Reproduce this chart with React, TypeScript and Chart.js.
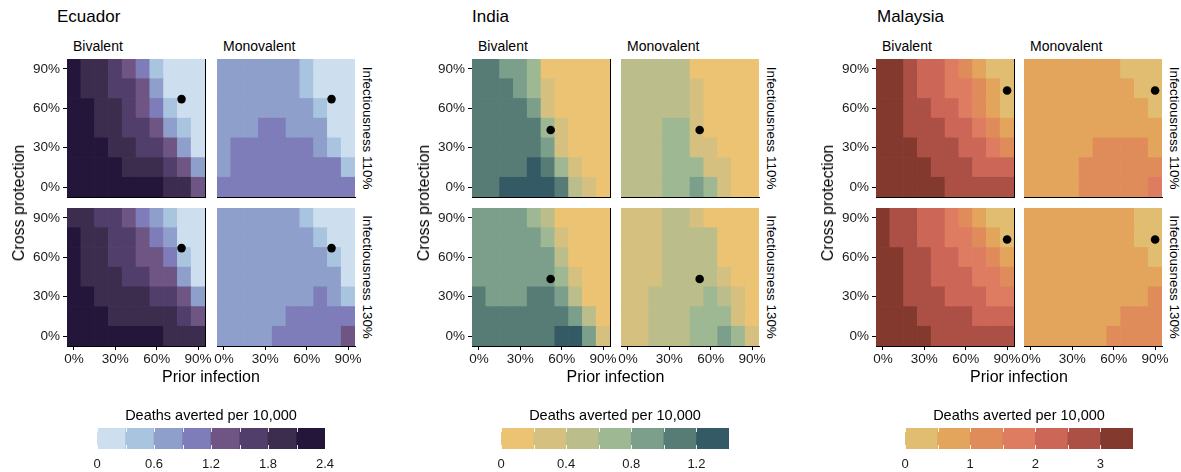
import React, { useEffect, useRef } from "react";
import { Chart, registerables } from "chart.js";

Chart.register(...registerables);

const FONT = '"Liberation Sans", Arial, Helvetica, sans-serif';
Chart.defaults.font.family = FONT;

// ---------- shared axes ----------
const priorInfection = [0, 10, 20, 30, 40, 50, 60, 70, 80, 90];
const crossProtection = [90, 75, 60, 45, 30, 15, 0]; // rows, top to bottom
const axisTicks = [0, 30, 60, 90];
const legendTitle = "Deaths averted per 10,000";

// ---------- Ecuador ----------
const ecuadorBins = [0, 0.3, 0.6, 0.9, 1.2, 1.5, 1.8, 2.1, 2.4];
const ecuadorColors = ["#cddfee", "#a8c4df", "#8f9fcb", "#7e7cb9", "#6e5584", "#513e6b", "#3c2c4e", "#24163a"];
const ecuadorLegendTicks = [0, 0.6, 1.2, 1.8, 2.4];
const ecuadorOptimum = { x: 78, y: 67 };
const ecuadorBivalent110 = [
  [2.25, 1.95, 1.95, 1.65, 1.35, 1.05, 0.45, 0.15, 0.15, 0.15],
  [2.25, 1.95, 1.95, 1.65, 1.65, 1.35, 0.75, 0.15, 0.15, 0.15],
  [2.25, 2.25, 1.95, 1.95, 1.65, 1.35, 1.05, 0.45, 0.15, 0.15],
  [2.25, 2.25, 1.95, 1.95, 1.65, 1.65, 1.35, 0.75, 0.45, 0.15],
  [2.25, 2.25, 2.25, 1.95, 1.95, 1.65, 1.65, 1.35, 0.75, 0.15],
  [2.25, 2.25, 2.25, 2.25, 1.95, 1.95, 1.95, 1.65, 1.35, 0.75],
  [2.25, 2.25, 2.25, 2.25, 2.25, 2.25, 2.25, 1.95, 1.95, 1.35],
];
const ecuadorMonovalent110 = [
  [0.75, 0.75, 0.75, 0.75, 0.75, 0.75, 0.45, 0.15, 0.15, 0.15],
  [0.75, 0.75, 0.75, 0.75, 0.75, 0.75, 0.45, 0.15, 0.15, 0.15],
  [0.75, 0.75, 0.75, 0.75, 0.75, 0.75, 0.75, 0.45, 0.15, 0.15],
  [0.75, 0.75, 0.75, 1.05, 1.05, 0.75, 0.75, 0.75, 0.15, 0.15],
  [0.75, 1.05, 1.05, 1.05, 1.05, 1.05, 1.05, 0.75, 0.45, 0.15],
  [0.75, 1.05, 1.05, 1.05, 1.05, 1.05, 1.05, 1.05, 1.05, 0.45],
  [1.05, 1.05, 1.05, 1.05, 1.05, 1.05, 1.05, 1.05, 1.05, 1.05],
];
const ecuadorBivalent130 = [
  [1.95, 1.95, 1.65, 1.65, 1.35, 1.05, 0.75, 0.45, 0.15, 0.15],
  [2.25, 1.95, 1.95, 1.65, 1.65, 1.35, 1.05, 0.75, 0.15, 0.15],
  [2.25, 1.95, 1.95, 1.65, 1.65, 1.35, 1.35, 1.05, 0.45, 0.15],
  [2.25, 1.95, 1.95, 1.95, 1.65, 1.65, 1.35, 1.35, 0.75, 0.15],
  [2.25, 2.25, 1.95, 1.95, 1.95, 1.95, 1.65, 1.65, 1.35, 0.75],
  [2.25, 2.25, 2.25, 1.95, 1.95, 1.95, 1.95, 1.95, 1.65, 1.35],
  [2.25, 2.25, 2.25, 2.25, 2.25, 2.25, 2.25, 1.95, 1.95, 1.95],
];
const ecuadorMonovalent130 = [
  [0.75, 0.75, 0.75, 0.75, 0.75, 0.75, 0.45, 0.15, 0.15, 0.15],
  [0.75, 0.75, 0.75, 0.75, 0.75, 0.75, 0.75, 0.45, 0.15, 0.15],
  [0.75, 0.75, 0.75, 0.75, 0.75, 0.75, 0.75, 0.75, 0.45, 0.15],
  [0.75, 0.75, 0.75, 0.75, 0.75, 0.75, 0.75, 0.75, 0.75, 0.15],
  [0.75, 0.75, 0.75, 0.75, 0.75, 0.75, 0.75, 1.05, 0.75, 0.45],
  [0.75, 0.75, 0.75, 0.75, 0.75, 1.05, 1.05, 1.05, 1.05, 1.05],
  [0.75, 0.75, 0.75, 0.75, 1.05, 1.05, 1.05, 1.05, 1.05, 1.35],
];

// ---------- India ----------
const indiaBins = [0, 0.2, 0.4, 0.6, 0.8, 1.0, 1.2, 1.4];
const indiaColors = ["#ebc373", "#d6c07f", "#bbbe8b", "#9db892", "#7b9f8b", "#577c75", "#335a65"];
const indiaLegendTicks = [0, 0.4, 0.8, 1.2];
const indiaOptimum = { x: 52, y: 43.5 };
const indiaBivalent110 = [
  [1.1, 1.1, 0.9, 0.9, 0.7, 0.1, 0.1, 0.1, 0.1, 0.1],
  [1.1, 1.1, 1.1, 0.9, 0.7, 0.3, 0.1, 0.1, 0.1, 0.1],
  [1.1, 1.1, 1.1, 1.1, 0.9, 0.3, 0.1, 0.1, 0.1, 0.1],
  [1.1, 1.1, 1.1, 1.1, 1.1, 0.7, 0.3, 0.1, 0.1, 0.1],
  [1.1, 1.1, 1.1, 1.1, 1.1, 0.9, 0.3, 0.1, 0.1, 0.1],
  [1.1, 1.1, 1.1, 1.1, 1.3, 1.1, 0.7, 0.3, 0.1, 0.1],
  [1.1, 1.1, 1.3, 1.3, 1.3, 1.3, 1.1, 0.5, 0.3, 0.1],
];
const indiaMonovalent110 = [
  [0.5, 0.5, 0.5, 0.5, 0.5, 0.1, 0.1, 0.1, 0.1, 0.1],
  [0.5, 0.5, 0.5, 0.5, 0.5, 0.3, 0.1, 0.1, 0.1, 0.1],
  [0.5, 0.5, 0.5, 0.5, 0.5, 0.3, 0.1, 0.1, 0.1, 0.1],
  [0.5, 0.5, 0.5, 0.7, 0.7, 0.3, 0.1, 0.1, 0.1, 0.1],
  [0.5, 0.5, 0.5, 0.7, 0.7, 0.3, 0.3, 0.1, 0.1, 0.1],
  [0.5, 0.5, 0.5, 0.7, 0.7, 0.7, 0.3, 0.3, 0.1, 0.1],
  [0.5, 0.5, 0.5, 0.7, 0.7, 0.9, 0.7, 0.3, 0.1, 0.1],
];
const indiaBivalent130 = [
  [0.9, 0.9, 0.9, 0.9, 0.7, 0.5, 0.1, 0.1, 0.1, 0.1],
  [0.9, 0.9, 0.9, 0.9, 0.9, 0.7, 0.3, 0.1, 0.1, 0.1],
  [0.9, 0.9, 0.9, 0.9, 0.9, 0.9, 0.5, 0.1, 0.1, 0.1],
  [0.9, 0.9, 0.9, 0.9, 0.9, 0.9, 0.7, 0.3, 0.1, 0.1],
  [1.1, 0.9, 0.9, 0.9, 1.1, 1.1, 0.9, 0.5, 0.1, 0.1],
  [1.1, 1.1, 1.1, 1.1, 1.1, 1.1, 1.1, 0.9, 0.5, 0.1],
  [1.1, 1.1, 1.1, 1.1, 1.1, 1.1, 1.3, 1.3, 0.9, 0.3],
];
const indiaMonovalent130 = [
  [0.3, 0.3, 0.3, 0.5, 0.5, 0.3, 0.1, 0.1, 0.1, 0.1],
  [0.3, 0.3, 0.3, 0.5, 0.5, 0.5, 0.5, 0.1, 0.1, 0.1],
  [0.3, 0.3, 0.3, 0.5, 0.5, 0.5, 0.5, 0.1, 0.1, 0.1],
  [0.3, 0.3, 0.3, 0.5, 0.5, 0.5, 0.5, 0.3, 0.1, 0.1],
  [0.3, 0.3, 0.5, 0.5, 0.5, 0.5, 0.7, 0.5, 0.3, 0.1],
  [0.3, 0.3, 0.5, 0.5, 0.5, 0.7, 0.7, 0.7, 0.3, 0.1],
  [0.3, 0.3, 0.5, 0.5, 0.5, 0.7, 0.7, 0.9, 0.7, 0.3],
];

// ---------- Malaysia ----------
const malaysiaBins = [0, 0.5, 1, 1.5, 2, 2.5, 3, 3.5];
const malaysiaColors = ["#e1bd71", "#e3a45c", "#e08c5a", "#de7c62", "#cc6657", "#ac4f45", "#84392e"];
const malaysiaLegendTicks = [0, 1, 2, 3];
const malaysiaOptimum = { x: 90, y: 73.5 };
const malaysiaBivalent110 = [
  [3.25, 3.25, 2.75, 2.25, 2.25, 1.75, 1.25, 0.75, 0.25, 0.25],
  [3.25, 3.25, 2.75, 2.25, 2.25, 1.75, 1.75, 1.25, 0.75, 0.25],
  [3.25, 3.25, 2.75, 2.75, 2.25, 2.25, 1.75, 1.25, 0.75, 0.25],
  [3.25, 3.25, 2.75, 2.75, 2.75, 2.25, 2.25, 1.75, 1.25, 0.75],
  [3.25, 3.25, 3.25, 2.75, 2.75, 2.75, 2.25, 2.25, 1.75, 1.25],
  [3.25, 3.25, 3.25, 3.25, 2.75, 2.75, 2.75, 2.25, 2.25, 2.25],
  [3.25, 3.25, 3.25, 3.25, 3.25, 2.75, 2.75, 2.75, 2.75, 2.75],
];
const malaysiaMonovalent110 = [
  [0.75, 0.75, 0.75, 0.75, 0.75, 0.75, 0.75, 0.25, 0.25, 0.25],
  [0.75, 0.75, 0.75, 0.75, 0.75, 0.75, 0.75, 0.75, 0.25, 0.25],
  [0.75, 0.75, 0.75, 0.75, 0.75, 0.75, 0.75, 0.75, 0.75, 0.25],
  [0.75, 0.75, 0.75, 0.75, 0.75, 0.75, 0.75, 0.75, 0.75, 0.75],
  [0.75, 0.75, 0.75, 0.75, 0.75, 1.25, 1.25, 1.25, 1.25, 0.75],
  [0.75, 0.75, 0.75, 0.75, 1.25, 1.25, 1.25, 1.25, 1.25, 1.25],
  [0.75, 0.75, 0.75, 0.75, 1.25, 1.25, 1.25, 1.25, 1.25, 1.75],
];
const malaysiaBivalent130 = [
  [3.25, 2.75, 2.75, 2.25, 2.25, 1.75, 1.25, 0.75, 0.25, 0.25],
  [3.25, 2.75, 2.75, 2.25, 2.25, 1.75, 1.75, 1.25, 0.75, 0.25],
  [3.25, 3.25, 2.75, 2.75, 2.25, 2.25, 1.75, 1.75, 1.25, 0.75],
  [3.25, 3.25, 2.75, 2.75, 2.25, 2.25, 2.25, 1.75, 1.75, 1.25],
  [3.25, 3.25, 2.75, 2.75, 2.75, 2.25, 2.25, 2.25, 1.75, 1.75],
  [3.25, 3.25, 3.25, 2.75, 2.75, 2.75, 2.75, 2.25, 2.25, 2.25],
  [3.25, 3.25, 3.25, 3.25, 2.75, 2.75, 2.75, 2.75, 2.75, 2.75],
];
const malaysiaMonovalent130 = [
  [0.75, 0.75, 0.75, 0.75, 0.75, 0.75, 0.75, 0.75, 0.25, 0.25],
  [0.75, 0.75, 0.75, 0.75, 0.75, 0.75, 0.75, 0.75, 0.25, 0.25],
  [0.75, 0.75, 0.75, 0.75, 0.75, 0.75, 0.75, 0.75, 0.75, 0.25],
  [0.75, 0.75, 0.75, 0.75, 0.75, 0.75, 0.75, 0.75, 0.75, 0.75],
  [0.75, 0.75, 0.75, 0.75, 0.75, 0.75, 0.75, 0.75, 0.75, 1.25],
  [0.75, 0.75, 0.75, 0.75, 0.75, 0.75, 0.75, 1.25, 1.25, 1.25],
  [0.75, 0.75, 0.75, 0.75, 0.75, 0.75, 1.25, 1.25, 1.25, 1.25],
];

// ---------- layout ----------
const PW = 138;
const PH = 138;
const ML = 60;
const MR = 22;
const MT = 12;
const MB = 30;
const ROW_TOPS = [59, 208];
const TICK_COLOR = "#1a1a1a";

function colorFor(v: number, bins: number[], colors: string[]) {
  for (let i = 0; i < colors.length; i++) {
    if (v < bins[i + 1]) return colors[i];
  }
  return colors[colors.length - 1];
}

interface PanelProps {
  grid: number[][];
  bins: number[];
  colors: string[];
  dot: { x: number; y: number };
  showX: boolean;
  showY: boolean;
  rightBorder: boolean;
  left: number;
  top: number;
}

function HeatPanel(p: PanelProps) {
  const ref = useRef<HTMLCanvasElement>(null);
  useEffect(() => {
    const cells: any[] = [];
    const fills: string[] = [];
    crossProtection.forEach((cp, r) => {
      priorInfection.forEach((pi, c) => {
        cells.push({ x: pi, y: [cp - 7.5, cp + 7.5] });
        fills.push(colorFor(p.grid[r][c], p.bins, p.colors));
      });
    });
    const tickFont = { family: FONT, size: 13.5 };
    const chart = new Chart(ref.current as HTMLCanvasElement, {
      type: "bar",
      data: {
        datasets: [
          {
            type: "scatter",
            data: [p.dot],
            pointRadius: 4.3,
            pointBackgroundColor: "#000",
            pointBorderWidth: 0,
            order: 0,
          } as any,
          {
            type: "bar",
            data: cells,
            backgroundColor: fills,
            borderWidth: 0,
            barPercentage: 1,
            categoryPercentage: 1,
            grouped: false,
            order: 1,
          } as any,
        ],
      },
      options: {
        responsive: false,
        animation: false,
        devicePixelRatio: 1,
        events: [],
        layout: { padding: { top: MT, left: 0, right: 0, bottom: 0 }, autoPadding: false },
        plugins: { legend: { display: false }, tooltip: { enabled: false }, title: { display: false } },
        scales: {
          x: {
            type: "linear",
            position: "bottom",
            min: -5,
            max: 95,
            offset: false,
            afterBuildTicks: (s: any) => {
              s.ticks = axisTicks.map((v) => ({ value: v }));
            },
            afterFit: (s: any) => {
              s.height = MB;
            },
            ticks: {
              display: p.showX,
              autoSkip: false,
              maxRotation: 0,
              padding: 1,
              color: TICK_COLOR,
              font: tickFont,
              callback: (v: any) => v + "%",
            },
            grid: { display: p.showX, drawOnChartArea: false, drawTicks: true, tickLength: 4, color: "#000", offset: false },
            border: { display: true, color: "#000", width: 1 },
          },
          y: {
            type: "linear",
            position: "left",
            min: -7.5,
            max: 97.5,
            afterBuildTicks: (s: any) => {
              s.ticks = axisTicks.map((v) => ({ value: v }));
            },
            afterFit: (s: any) => {
              s.width = ML;
            },
            ticks: {
              display: p.showY,
              autoSkip: false,
              padding: 3,
              color: TICK_COLOR,
              font: tickFont,
              callback: (v: any) => v + "%",
            },
            grid: { display: p.showY, drawOnChartArea: false, drawTicks: true, tickLength: 4, color: "#000" },
            border: { display: true, color: "#000", width: 1 },
          },
          y2: {
            type: "linear",
            position: "right",
            afterFit: (s: any) => {
              s.width = MR;
            },
            ticks: { display: false },
            grid: { display: false },
            border: { display: p.rightBorder, color: "#000", width: 1 },
          },
        },
      } as any,
    });
    return () => chart.destroy();
  }, []);
  const w = ML + PW + MR;
  const h = MT + PH + MB;
  return (
    <canvas
      ref={ref}
      width={w}
      height={h}
      style={{ position: "absolute", left: p.left - ML, top: p.top - MT, width: w, height: h }}
    />
  );
}

const colorbarTicks = {
  id: "colorbarTicks",
  afterDatasetsDraw(chart: any, _args: any, opts: any) {
    const { ctx, chartArea, scales } = chart;
    ctx.save();
    ctx.strokeStyle = "rgba(255,255,255,0.9)";
    ctx.lineWidth = 1;
    (opts.values || []).forEach((v: number) => {
      const x = Math.round(scales.x.getPixelForValue(v)) + 0.5;
      ctx.beginPath();
      ctx.moveTo(x, chartArea.top);
      ctx.lineTo(x, chartArea.top + 4);
      ctx.moveTo(x, chartArea.bottom - 4);
      ctx.lineTo(x, chartArea.bottom);
      ctx.stroke();
    });
    ctx.restore();
  },
};

const LEG_W = 228;
const LEG_H = 21;
const LEG_PAD = 20;
const LEG_B = 30;
const LEG_TOP = 428;

function ColorBar({ bins, colors, ticks, left }: { bins: number[]; colors: string[]; ticks: number[]; left: number }) {
  const ref = useRef<HTMLCanvasElement>(null);
  useEffect(() => {
    const chart = new Chart(ref.current as HTMLCanvasElement, {
      type: "bar",
      data: {
        labels: ["bar"],
        datasets: [
          {
            data: colors.map((_, i) => ({ x: [bins[i], bins[i + 1]], y: "bar" })),
            backgroundColor: colors,
            borderWidth: 0,
            barPercentage: 1,
            categoryPercentage: 1,
            grouped: false,
          } as any,
        ],
      },
      options: {
        indexAxis: "y",
        responsive: false,
        animation: false,
        devicePixelRatio: 1,
        events: [],
        layout: { padding: { top: 0, left: LEG_PAD, right: LEG_PAD, bottom: 0 }, autoPadding: false },
        plugins: {
          legend: { display: false },
          tooltip: { enabled: false },
          colorbarTicks: { values: bins },
        },
        scales: {
          x: {
            type: "linear",
            min: bins[0],
            max: bins[bins.length - 1],
            afterBuildTicks: (s: any) => {
              s.ticks = ticks.map((v) => ({ value: v }));
            },
            afterFit: (s: any) => {
              s.height = LEG_B;
            },
            ticks: {
              autoSkip: false,
              maxRotation: 0,
              padding: 8,
              color: TICK_COLOR,
              font: { family: FONT, size: 13 },
              callback: (v: any) => String(v),
            },
            grid: { display: false, drawTicks: false },
            border: { display: false },
          },
          y: { display: false },
        },
      } as any,
      plugins: [colorbarTicks as any],
    });
    return () => chart.destroy();
  }, []);
  const w = LEG_W + 2 * LEG_PAD;
  const h = LEG_H + LEG_B;
  return (
    <canvas
      ref={ref}
      width={w}
      height={h}
      style={{ position: "absolute", left: left - LEG_PAD, top: LEG_TOP, width: w, height: h }}
    />
  );
}

function Label({
  x,
  y,
  size,
  children,
  anchor = "start",
  rotate = 0,
}: {
  x: number;
  y: number;
  size: number;
  children: React.ReactNode;
  anchor?: "start" | "middle";
  rotate?: number;
}) {
  const tx = anchor === "middle" || rotate !== 0 ? "-50%" : "0";
  return (
    <div
      style={{
        position: "absolute",
        left: x,
        top: y,
        fontSize: size,
        lineHeight: 1,
        whiteSpace: "nowrap",
        color: "#000",
        transform: `translate(${tx}, -50%)${rotate ? ` rotate(${rotate}deg)` : ""}`,
      }}
    >
      {children}
    </div>
  );
}

const countries = [
  {
    name: "Ecuador",
    titleX: 57,
    lefts: [67, 217],
    bins: ecuadorBins,
    colors: ecuadorColors,
    legendTicks: ecuadorLegendTicks,
    legendLeft: 97,
    dot: ecuadorOptimum,
    grids: [
      [ecuadorBivalent110, ecuadorMonovalent110],
      [ecuadorBivalent130, ecuadorMonovalent130],
    ],
  },
  {
    name: "India",
    titleX: 472,
    lefts: [472, 621],
    bins: indiaBins,
    colors: indiaColors,
    legendTicks: indiaLegendTicks,
    legendLeft: 501,
    dot: indiaOptimum,
    grids: [
      [indiaBivalent110, indiaMonovalent110],
      [indiaBivalent130, indiaMonovalent130],
    ],
  },
  {
    name: "Malaysia",
    titleX: 877,
    lefts: [876, 1024],
    bins: malaysiaBins,
    colors: malaysiaColors,
    legendTicks: malaysiaLegendTicks,
    legendLeft: 905,
    dot: malaysiaOptimum,
    grids: [
      [malaysiaBivalent110, malaysiaMonovalent110],
      [malaysiaBivalent130, malaysiaMonovalent130],
    ],
  },
];
const vaccines = ["Bivalent", "Monovalent"];
const scenarios = ["Infectiousness 110%", "Infectiousness 130%"];

export default function App() {
  return (
    <div
      style={{
        position: "absolute",
        left: 0,
        top: 0,
        width: 1181,
        height: 472,
        overflow: "hidden",
        background: "#fff",
        fontFamily: FONT,
      }}
    >
      {countries.map((c) => (
        <React.Fragment key={c.name}>
          <Label x={c.titleX} y={16} size={17}>
            {c.name}
          </Label>
          {vaccines.map((v, j) => (
            <Label key={v} x={c.lefts[j] + 6} y={46} size={14}>
              {v}
            </Label>
          ))}
          {scenarios.map((s, i) => (
            <Label key={s} x={c.lefts[1] + PW + 12} y={ROW_TOPS[i] + PH / 2} size={13.4} rotate={90}>
              {s}
            </Label>
          ))}
          {ROW_TOPS.map((top, i) =>
            c.lefts.map((left, j) => (
              <HeatPanel
                key={`${i}-${j}`}
                grid={c.grids[i][j]}
                bins={c.bins}
                colors={c.colors}
                dot={c.dot}
                showX={i === 1}
                showY={j === 0}
                rightBorder={j === 0}
                left={left}
                top={top}
              />
            ))
          )}
          <Label x={c.lefts[0] - 48} y={203} size={16} rotate={-90}>
            Cross protection
          </Label>
          <Label x={(c.lefts[0] + c.lefts[1] + PW) / 2} y={377} size={16} anchor="middle">
            Prior infection
          </Label>
          <Label x={c.legendLeft + LEG_W / 2} y={415} size={14.5} anchor="middle">
            {legendTitle}
          </Label>
          <ColorBar bins={c.bins} colors={c.colors} ticks={c.legendTicks} left={c.legendLeft} />
        </React.Fragment>
      ))}
    </div>
  );
}
